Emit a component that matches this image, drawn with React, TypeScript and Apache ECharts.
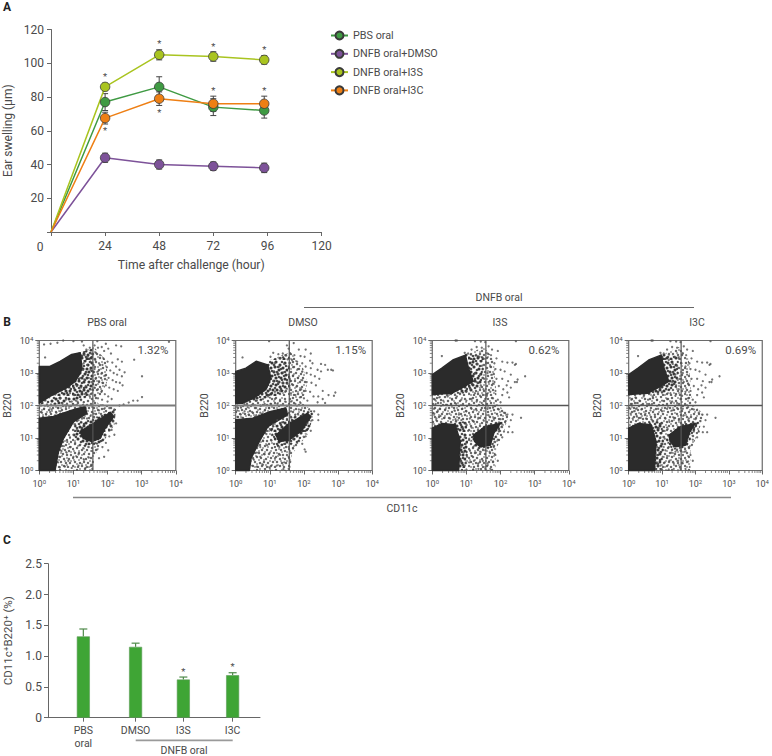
import React, { useEffect, useRef } from "react";
import * as echarts from "echarts";

const FONT = "Roboto";
const TEXT = "#4a4a4a";
const AXIS = "#666666";

// Panel A
const hours = [0, 24, 48, 72, 94.6];
const seriesNames = ["PBS oral", "DNFB oral+DMSO", "DNFB oral+I3S", "DNFB oral+I3C"];
const seriesColors = ["#3f9a43", "#7d5299", "#a9c420", "#ee7f14"];
const pbsValues = [0, 77, 86, 74, 72];
const dmsoValues = [0, 44, 40, 39, 38];
const i3sValues = [0, 86, 105, 104, 102];
const i3cValues = [0, 67.5, 79, 76, 76];
const pbsErr = [0, 5, 6, 5, 4.5];
const dmsoErr = [0, 2.7, 2.7, 2.5, 2.8];
const i3sErr = [0, 2.2, 3, 2.8, 2.5];
const i3cErr = [0, 3.5, 4, 4.5, 4.5];
const starsA = [
  [24, 92], [24, 60], [48, 111.5], [48, 71], [72, 110], [72, 84], [94.6, 108], [94.6, 84],
];

// Panel B: positions in decades (log10 of the channel)
const gate = [1.57, 2.0];
const bTitles = ["PBS oral", "DMSO", "I3S", "I3C"];
const bPercents = ["1.32%", "1.15%", "0.62%", "0.69%"];

const pbsDark = [
  [[0, 3.2], [0.31, 3.2], [0.61, 3.36], [0.95, 3.57], [1.2, 3.62], [1.25, 3.15], [1.2, 3.0], [1.05, 2.74], [0.8, 2.54], [0.31, 2.28], [0, 2.07]],
  [[0, 1.61], [0.41, 1.66], [1.0, 1.87], [1.34, 1.97], [1.39, 1.76], [1.0, 1.5], [0.71, 0.99], [0.56, 0.58], [0.46, 0], [0, 0]],
  [[1.2, 1.2], [1.59, 1.45], [2.08, 1.79], [2.18, 1.66], [1.93, 1.3], [1.78, 0.99], [1.54, 0.89], [1.29, 0.99]],
];
const pbsDense = [
  [[0, 2.05], [0.6, 2.4], [1.05, 3.6], [1.58, 3.75], [1.62, 2.55], [1.3, 2.2], [0.6, 2.05]],
  [[1.05, 1.45], [1.6, 1.6], [2.25, 1.9], [2.2, 1.4], [1.85, 0.85], [1.3, 0.75], [1.0, 1.0]],
];
const pbsMid = [[0, 2.07], [1.2, 3.62], [1.6, 3.8], [1.95, 3.4], [2.02, 2.8], [1.7, 2.08], [2.2, 1.95], [2.1, 1.6], [1.85, 0.9], [1.6, 0.4], [1.6, 0], [0.46, 0], [0, 1.61]];
const pbsDots = [
  [0.14, 3.88], [0.33, 3.9], [0.53, 3.93], [0.7, 4.0], [0.17, 3.48], [1.0, 3.98], [1.25, 3.97], [1.7, 3.98], [1.95, 3.9], [2.25, 3.85], [2.4, 3.82],
  [3.8, 3.96], [3.01, 2.9], [2.78, 3.41], [3.01, 2.26], [2.88, 2.15], [2.75, 2.15], [2.62, 2.09], [2.47, 2.03], [2.35, 2.0],
  [1.62, 3.85], [1.72, 3.78], [1.83, 3.8], [1.9, 3.68], [2.02, 3.75], [2.1, 3.6], [1.66, 3.62], [1.78, 3.55], [1.88, 3.45], [2.0, 3.35], [2.14, 3.32], [2.3, 3.42], [2.42, 3.35], [2.25, 3.2], [2.35, 3.1],
  [1.64, 3.4], [1.75, 3.3], [1.85, 3.25], [1.98, 3.18], [2.08, 3.08], [2.18, 3.0], [2.28, 2.95], [2.42, 2.9], [2.5, 3.02], [1.62, 3.12], [1.72, 3.05], [1.82, 2.98], [1.93, 2.92], [2.03, 2.85], [2.15, 2.78], [2.25, 2.72], [2.36, 2.7], [2.44, 2.62],
  [1.65, 2.82], [1.75, 2.75], [1.85, 2.7], [1.95, 2.62], [2.05, 2.55], [2.18, 2.5], [2.3, 2.45], [1.62, 2.55], [1.72, 2.5], [1.82, 2.42], [1.92, 2.35], [2.02, 2.28], [1.63, 2.3], [1.72, 2.22], [1.84, 2.18], [2.0, 2.12], [2.12, 2.2],
  [1.3, 3.85], [1.38, 3.72], [1.48, 3.78], [1.32, 3.55], [1.42, 3.5], [1.52, 3.6], [1.3, 3.3], [1.4, 3.25], [1.5, 3.35], [1.28, 3.1], [1.38, 3.02], [1.5, 3.1], [1.2, 2.85], [1.32, 2.8], [1.45, 2.85], [1.54, 2.72], [1.1, 2.6], [1.22, 2.55], [1.36, 2.6], [1.5, 2.5], [0.9, 2.38], [1.02, 2.32], [1.18, 2.3], [1.33, 2.35], [1.48, 2.28], [0.62, 2.22], [0.78, 2.18], [0.95, 2.12], [1.12, 2.12], [1.3, 2.1],
  [0.05, 2.0], [0.14, 1.9], [0.25, 1.98], [0.36, 1.88], [0.45, 2.02], [0.56, 1.92], [0.68, 2.05], [0.78, 1.96], [0.08, 1.78], [0.2, 1.72], [0.32, 1.8], [0.5, 1.78], [0.62, 1.82], [0.88, 1.98], [0.98, 2.05], [1.1, 2.02], [1.2, 1.98],
  [1.05, 1.42], [1.15, 1.55], [1.25, 1.62], [1.4, 1.6], [1.5, 1.68], [1.6, 1.75], [1.75, 1.85], [1.9, 1.9], [2.05, 1.92], [2.2, 1.88], [1.1, 1.25], [1.0, 1.1], [0.9, 1.02], [0.82, 0.88], [0.72, 0.75], [0.65, 0.6], [0.58, 0.42], [0.55, 0.25], [0.6, 0.1],
  [0.8, 0.55], [0.92, 0.72], [1.05, 0.85], [1.18, 0.78], [1.3, 0.68], [1.45, 0.72], [1.55, 0.6], [0.85, 0.3], [1.0, 0.42], [1.15, 0.5], [1.3, 0.35], [1.45, 0.4], [1.52, 0.18], [0.75, 0.12], [0.95, 0.08], [1.15, 0.15], [1.35, 0.08], [1.55, 0.05], [1.7, 0.65], [1.65, 0.85], [1.85, 0.72], [1.95, 0.85], [2.05, 1.05], [2.12, 1.25], [2.02, 0.62], [1.9, 0.42], [1.75, 0.38], [2.25, 1.45], [2.2, 1.1],
];

const dmsoDark = [
  [[0, 3.05], [0.3, 3.15], [0.6, 3.36], [0.94, 3.25], [1.03, 2.85], [0.89, 2.5], [0.55, 2.24], [0.2, 2.07], [0, 2.07]],
  [[0, 1.56], [0.5, 1.61], [1.0, 1.81], [1.47, 1.92], [1.52, 1.71], [0.94, 1.35], [0.69, 0.89], [0.45, 0.37], [0.4, 0], [0, 0]],
  [[1.18, 1.09], [1.57, 1.45], [2.1, 1.76], [2.2, 1.66], [1.91, 1.2], [1.57, 0.94], [1.28, 0.89]],
];
const dmsoDense = [
  [[0, 2.05], [0.7, 2.5], [1.0, 3.4], [1.55, 3.55], [1.62, 2.6], [1.2, 2.3], [0.5, 2.1]],
  [[1.0, 1.3], [1.55, 1.6], [2.25, 1.85], [2.2, 1.35], [1.8, 0.85], [1.2, 0.75]],
];
const dmsoMid = [[0, 2.07], [1.0, 3.4], [1.6, 3.65], [1.95, 3.25], [2.1, 2.7], [1.95, 2.08], [2.3, 1.8], [2.1, 1.1], [1.65, 0.5], [1.6, 0], [0.4, 0], [0, 1.56]];
const dmsoDots = [
  [0.2, 3.48], [0.98, 3.98], [1.5, 3.85], [1.55, 3.75], [1.7, 3.92], [1.85, 3.72], [2.05, 3.72], [2.2, 3.6], [1.38, 3.6], [1.25, 3.58], [1.1, 3.62], [1.02, 3.5], [1.3, 3.45], [1.45, 3.55], [1.6, 3.6],
  [1.72, 3.55], [1.9, 3.52], [2.02, 3.5], [2.18, 3.38], [2.25, 3.3], [2.5, 3.28], [2.62, 3.25], [2.8, 3.1], [2.7, 3.1], [2.85, 3.08], [2.5, 3.05], [2.4, 3.1], [2.2, 3.15], [2.05, 3.2], [1.95, 3.3], [1.8, 3.35], [1.65, 3.4], [1.52, 3.42],
  [1.15, 3.3], [1.28, 3.2], [1.42, 3.28], [1.55, 3.2], [1.68, 3.18], [1.82, 3.12], [1.95, 3.05], [2.08, 3.0], [2.2, 2.95], [2.32, 2.9], [2.45, 2.82], [1.12, 3.05], [1.25, 2.98], [1.4, 3.02], [1.55, 2.95], [1.68, 2.92], [1.82, 2.85], [1.95, 2.78], [2.08, 2.72], [2.22, 2.7], [2.35, 2.62],
  [1.1, 2.75], [1.25, 2.72], [1.38, 2.7], [1.52, 2.68], [1.65, 2.65], [1.78, 2.58], [1.92, 2.5], [2.05, 2.45], [2.18, 2.42], [1.0, 2.48], [1.15, 2.42], [1.3, 2.45], [1.45, 2.42], [1.62, 2.38], [1.75, 2.32], [1.88, 2.25], [2.0, 2.22], [2.1, 2.15],
  [2.55, 2.45], [2.72, 2.32], [2.88, 2.3], [2.92, 2.4], [2.42, 2.28], [2.55, 2.2], [2.62, 2.08], [2.4, 2.1], [2.28, 2.28], [1.62, 2.12], [1.75, 2.05], [1.9, 2.08], [1.45, 2.12], [1.3, 2.18], [1.15, 2.2], [0.95, 2.28], [0.8, 2.2], [0.62, 2.15], [0.85, 2.05], [1.02, 2.05], [1.22, 2.05],
  [0.05, 2.0], [0.15, 1.95], [0.25, 2.05], [0.35, 1.95], [0.48, 2.02], [0.6, 1.92], [0.72, 2.0], [0.05, 1.85], [0.15, 1.72], [0.26, 1.82], [0.38, 1.72], [0.48, 1.8], [0.6, 1.7], [0.72, 1.78], [0.05, 1.65], [0.2, 1.62], [0.85, 1.85], [0.98, 1.92],
  [1.0, 1.28], [1.1, 1.42], [1.22, 1.55], [1.35, 1.48], [1.5, 1.55], [1.62, 1.65], [1.62, 1.82], [1.75, 1.72], [1.85, 1.88], [2.0, 1.82], [2.15, 1.88], [2.3, 1.82], [2.42, 1.72], [2.42, 1.55], [2.25, 1.55], [2.1, 1.45], [2.2, 1.22], [2.05, 1.05], [0.9, 1.12], [0.8, 0.92], [0.72, 0.72], [0.62, 0.55], [0.52, 0.35], [0.48, 0.15],
  [0.92, 0.78], [1.05, 0.92], [1.15, 0.72], [1.28, 0.72], [1.42, 0.82], [1.55, 0.72], [0.72, 0.42], [0.85, 0.5], [1.0, 0.55], [1.15, 0.38], [1.3, 0.48], [1.42, 0.25], [1.55, 0.42], [0.62, 0.12], [0.8, 0.18], [1.0, 0.08], [1.2, 0.15], [1.4, 0.05], [1.55, 0.05], [1.68, 0.98], [1.8, 0.85], [1.95, 0.82], [2.02, 0.65], [2.05, 0.58], [1.68, 0.68],
];

const lowDark = [
  [[0, 2.95], [0.28, 3.15], [0.62, 3.41], [0.97, 3.55], [1.06, 3.15], [1.2, 2.74], [0.87, 2.54], [0.58, 2.38], [0.19, 2.35], [0, 2.33]],
  [[0, 1.3], [0.29, 1.45], [0.67, 1.41], [0.82, 0.89], [0.77, 0], [0, 0]],
  [[1.21, 1.09], [1.55, 1.35], [1.99, 1.45], [1.8, 1.14], [1.7, 0.78], [1.4, 0.73], [1.24, 0.89]],
];
const lowDense = [
  [[0.5, 2.35], [0.97, 3.6], [1.5, 3.5], [1.45, 2.6], [1.1, 2.4]],
  [[1.1, 1.0], [1.6, 1.45], [2.1, 1.5], [1.85, 1.0], [1.75, 0.7], [1.3, 0.65]],
  [[0.6, 1.5], [1.0, 1.5], [1.05, 0.8], [0.95, 0], [0.7, 0]],
];
const lowMid = [[0, 2.33], [0.97, 3.55], [1.5, 3.8], [1.8, 3.45], [1.85, 2.7], [1.9, 2.05], [2.25, 1.75], [2.1, 1.2], [1.85, 0.6], [1.85, 0], [0.77, 0], [0, 1.3]];
const lowDots = [
  [0.68, 4.0], [0.72, 4.0], [1.25, 3.98], [1.42, 3.97], [2.45, 3.98], [1.55, 3.95], [1.65, 3.82], [1.75, 3.72], [1.45, 3.78], [1.3, 3.8], [1.15, 3.72], [0.28, 3.52], [0.95, 3.62], [1.05, 3.6],
  [1.62, 3.6], [1.72, 3.55], [1.92, 3.68], [1.88, 3.45], [1.82, 3.3], [2.05, 3.35], [2.2, 3.32], [2.35, 3.32], [2.42, 3.25], [2.45, 3.28], [1.38, 3.5], [1.5, 3.45], [1.2, 3.4], [1.32, 3.28], [1.45, 3.22], [1.58, 3.3], [1.7, 3.2], [1.85, 3.12],
  [2.0, 3.1], [2.12, 3.05], [2.3, 2.95], [2.72, 2.9], [2.5, 2.8], [2.42, 2.72], [2.48, 2.72], [2.22, 2.75], [2.18, 2.62], [2.3, 2.55], [2.05, 2.82], [1.62, 3.0], [1.75, 2.95], [1.88, 2.82], [1.65, 2.72], [1.78, 2.68], [1.95, 2.6], [2.08, 2.5], [2.2, 2.4], [2.25, 2.25], [2.05, 2.32], [1.85, 2.45], [1.7, 2.42], [1.6, 2.3], [1.78, 2.22], [1.92, 2.18], [2.0, 2.1],
  [1.25, 3.0], [1.4, 2.95], [1.52, 2.82], [1.3, 2.72], [1.42, 2.62], [1.5, 2.5], [1.0, 2.42], [1.12, 2.5], [1.25, 2.38], [1.4, 2.3], [1.55, 2.2], [0.72, 2.28], [0.85, 2.18], [1.0, 2.15], [1.15, 2.2], [1.3, 2.12], [1.45, 2.08], [0.08, 2.18], [0.2, 2.25], [0.32, 2.15], [0.45, 2.28], [0.58, 2.18], [0.1, 2.05], [0.25, 2.08], [0.4, 2.02], [0.55, 2.05], [0.7, 2.05],
  [0.05, 1.9], [0.16, 1.82], [0.24, 1.68], [0.12, 1.6], [0.06, 1.75], [0.22, 1.9], [0.38, 1.88], [0.5, 1.75], [0.36, 1.62], [0.52, 1.6], [0.65, 1.85], [0.78, 1.72], [0.68, 1.58], [0.88, 1.9], [1.0, 1.82], [1.15, 1.9], [1.3, 1.85], [1.45, 1.92], [1.62, 1.9], [1.78, 1.95], [1.95, 1.88], [2.1, 1.78], [2.2, 1.72], [2.35, 1.72], [2.6, 1.62],
  [0.85, 1.55], [0.98, 1.45], [1.1, 1.6], [1.22, 1.5], [1.35, 1.62], [1.5, 1.55], [1.65, 1.7], [1.8, 1.6], [2.0, 1.58], [2.15, 1.52], [2.25, 1.35], [2.3, 1.55], [2.35, 1.18], [2.22, 1.18], [2.1, 1.2], [1.95, 1.2], [2.05, 1.02], [1.92, 0.95], [0.9, 1.3], [1.05, 1.22], [1.15, 1.32], [0.95, 1.02], [1.08, 0.98], [1.2, 0.72],
  [0.85, 0.72], [0.98, 0.82], [1.1, 0.62], [0.82, 0.48], [0.92, 0.55], [1.02, 0.42], [1.15, 0.45], [1.28, 0.55], [1.4, 0.58], [1.55, 0.62], [1.68, 0.58], [1.8, 0.72], [1.85, 0.48], [1.92, 0.3], [1.78, 0.28], [0.85, 0.25], [0.95, 0.15], [1.08, 0.25], [1.22, 0.3], [1.35, 0.22], [1.48, 0.3], [1.62, 0.22], [1.0, 0.03], [1.2, 0.03], [1.35, 0.05], [1.55, 0.05], [1.7, 0.05],
];

// Texture for the crowded, mottled part of a cloud (a 36 px tile of events)
const speckleTile = [
  [2, 3], [5, 2], [9, 4], [13, 1], [16, 5], [20, 3], [24, 2], [28, 5], [33, 3], [1, 8], [6, 7], [11, 9], [15, 9], [19, 8], [23, 7], [27, 10], [31, 8], [35, 10],
  [3, 12], [8, 13], [13, 14], [17, 12], [22, 12], [26, 14], [30, 13], [34, 15], [1, 17], [5, 16], [10, 18], [15, 18], [20, 16], [24, 18], [29, 18], [33, 19],
  [3, 21], [7, 21], [12, 22], [17, 22], [22, 21], [27, 22], [31, 23], [35, 23], [1, 26], [5, 25], [9, 26], [14, 27], [19, 26], [24, 25], [28, 27], [33, 27],
  [3, 30], [8, 31], [12, 30], [16, 31], [21, 30], [25, 30], [30, 31], [34, 31], [1, 34], [6, 35], [10, 34], [15, 35], [19, 34], [23, 35], [28, 34], [32, 35],
];
const speckleExtra = [
  [4, 5], [8, 1], [12, 6], [18, 2], [22, 5], [26, 7], [30, 2], [34, 6], [3, 9], [9, 10], [14, 12], [20, 11], [25, 12], [29, 9], [33, 12],
  [6, 14], [11, 16], [16, 15], [23, 15], [27, 17], [32, 16], [2, 19], [7, 19], [13, 20], [19, 19], [25, 21], [30, 20], [35, 20],
  [4, 24], [10, 23], [16, 25], [21, 24], [26, 24], [31, 26], [2, 28], [7, 28], [12, 28], [18, 29], [23, 28], [29, 29], [35, 29],
  [5, 32], [10, 32], [14, 33], [20, 33], [26, 33], [31, 33], [3, 35], [17, 35],
];

const minorDigits = [2, 3, 4, 5, 6, 7, 8, 9];
const decades = [0, 1, 2, 3];

// Panel C
const cLabels = ["PBS\noral", "DMSO", "I3S", "I3C"];
const cPositions = [1, 2.05, 3.01, 4];
const cValues = [1.32, 1.15, 0.62, 0.69];
const cErr = [0.12, 0.06, 0.04, 0.04];
const cStars = [[3.01, 0.75], [4, 0.83]];

function makeSpeckle(r1: number, r2: number, a1: number, a2: number) {
  const c = document.createElement("canvas");
  c.width = 36;
  c.height = 36;
  const g = c.getContext("2d")!;
  g.fillStyle = `rgba(50,50,50,${a1})`;
  speckleTile.forEach(([x, y]) => {
    g.beginPath();
    g.arc(x, y, r1, 0, Math.PI * 2);
    g.fill();
  });
  g.fillStyle = `rgba(55,55,55,${a2})`;
  speckleExtra.forEach(([x, y]) => {
    g.beginPath();
    g.arc(x, y, r2, 0, Math.PI * 2);
    g.fill();
  });
  return c;
}

function buildOption() {
  const grids: any[] = [];
  const xAxes: any[] = [];
  const yAxes: any[] = [];
  const series: any[] = [];
  const speckle = makeSpeckle(1.25, 1.0, 0.72, 0.55);
  const speckleDense = makeSpeckle(1.55, 1.35, 0.88, 0.8);

  // ---------- Panel A ----------
  grids.push({ left: 51, top: 29.5, width: 270.5, height: 202.5 });
  xAxes.push({
    type: "value", gridIndex: 0, min: 0, max: 120, interval: 24,
    name: "Time after challenge (hour)", nameLocation: "middle", nameGap: 27,
    nameTextStyle: { fontFamily: FONT, fontSize: 12.2, color: TEXT, padding: [0, 0, 0, 10] },
    axisLine: { lineStyle: { color: AXIS } }, axisTick: { length: 4, lineStyle: { color: AXIS } },
    splitLine: { show: false },
    axisLabel: { fontFamily: FONT, fontSize: 12, color: TEXT, margin: 8, formatter: (v: number) => (v === 0 ? "" : String(v)) },
  });
  yAxes.push({
    type: "value", gridIndex: 0, min: 0, max: 120, interval: 20,
    name: "Ear swelling (µm)", nameLocation: "middle", nameGap: 37, nameRotate: 90,
    nameTextStyle: { fontFamily: FONT, fontSize: 12, color: TEXT },
    axisLine: { show: true, lineStyle: { color: AXIS } }, axisTick: { length: 4, lineStyle: { color: AXIS } },
    splitLine: { show: false },
    axisLabel: { fontFamily: FONT, fontSize: 12, color: TEXT, margin: 7, formatter: (v: number) => (v === 0 ? "" : String(v)) },
  });

  const aValues = [pbsValues, dmsoValues, i3sValues, i3cValues];
  const aErrs = [pbsErr, dmsoErr, i3sErr, i3cErr];
  aValues.forEach((vals, k) => {
    series.push({
      type: "custom", xAxisIndex: 0, yAxisIndex: 0, z: 2, clip: false, silent: true,
      data: vals.map((v, i) => [hours[i], v, aErrs[k][i]]).slice(1),
      renderItem: (_: any, api: any) => {
        const x = api.value(0), y = api.value(1), e = api.value(2);
        const hi = api.coord([x, y + e]), lo = api.coord([x, y - e]);
        const style = { stroke: "#444444", lineWidth: 1, fill: "none" };
        return {
          type: "group",
          children: [
            { type: "line", shape: { x1: hi[0], y1: hi[1], x2: lo[0], y2: lo[1] }, style },
            { type: "line", shape: { x1: hi[0] - 3, y1: hi[1], x2: hi[0] + 3, y2: hi[1] }, style },
            { type: "line", shape: { x1: lo[0] - 3, y1: lo[1], x2: lo[0] + 3, y2: lo[1] }, style },
          ],
        };
      },
    });
  });
  aValues.forEach((vals, k) => {
    series.push({
      type: "line", name: seriesNames[k], xAxisIndex: 0, yAxisIndex: 0, z: 3,
      symbol: "circle", symbolSize: 9.5,
      lineStyle: { color: seriesColors[k], width: 1.5 },
      itemStyle: { color: seriesColors[k], borderColor: "#3a3a3a", borderWidth: 0.8 },
      data: vals.map((v, i) => (i === 0 ? { value: [hours[i], v], symbol: "none" } : [hours[i], v])),
    });
  });
  const starRender = (_: any, api: any) => {
    const p = api.coord([api.value(0), api.value(1)]);
    return {
      type: "text", x: p[0], y: p[1],
      style: { text: "*", fontFamily: FONT, fontSize: 9.5, fill: TEXT, textAlign: "center", textVerticalAlign: "middle" },
    };
  };
  series.push({ type: "custom", xAxisIndex: 0, yAxisIndex: 0, z: 4, silent: true, clip: false, data: starsA, renderItem: starRender });

  // ---------- Panel B ----------
  const bLefts = [39.3, 235.7, 432.3, 628.7];
  const bDark = [pbsDark, dmsoDark, lowDark, lowDark];
  const bDense = [pbsDense, dmsoDense, lowDense, lowDense];
  const bMid = [pbsMid, dmsoMid, lowMid, lowMid];
  const bDots = [pbsDots, dmsoDots, lowDots, lowDots];
  const toVal = (p: number[]) => [Math.pow(10, p[0]), Math.pow(10, p[1])];
  const logLabel = (v: number) => "{b|10}{s|" + Math.round(Math.log10(v)) + "}";
  bLefts.forEach((left, k) => {
    const gi = k + 1;
    grids.push({ left, top: 340.5, width: 136.5, height: 130, show: true, borderColor: "#6b6b6b", borderWidth: 1.2, backgroundColor: "transparent" });
    const rich = {
      b: { fontFamily: FONT, fontSize: 9, color: TEXT },
      s: { fontFamily: FONT, fontSize: 6, color: TEXT, verticalAlign: "top", padding: [0, 0, 4, 0] },
    };
    xAxes.push({
      type: "log", gridIndex: gi, min: 1, max: 10000, logBase: 10,
      axisLine: { show: false }, splitLine: { show: false },
      axisTick: { length: 4, lineStyle: { color: AXIS } },
      axisLabel: { margin: 8, formatter: logLabel, rich, hideOverlap: false, showMinLabel: true, showMaxLabel: true },
    });
    yAxes.push({
      type: "log", gridIndex: gi, min: 1, max: 10000, logBase: 10,
      name: "B220", nameLocation: "middle", nameGap: 26, nameRotate: 90,
      nameTextStyle: { fontFamily: FONT, fontSize: 10.5, color: TEXT },
      axisLine: { show: false }, splitLine: { show: false },
      axisTick: { length: 4, lineStyle: { color: AXIS } },
      axisLabel: { margin: 6, formatter: logLabel, rich, showMinLabel: true, showMaxLabel: true },
    });
    series.push({
      type: "custom", xAxisIndex: gi, yAxisIndex: gi, z: 1, silent: true, data: [[1, 1]],
      renderItem: (_: any, api: any) => ({
        type: "polygon",
        shape: { points: bMid[k].map((p) => api.coord(toVal(p))) },
        style: { fill: { image: speckle, repeat: "repeat", imageWidth: 36, imageHeight: 36 }, stroke: "none" },
      }),
    });
    series.push({
      type: "custom", xAxisIndex: gi, yAxisIndex: gi, z: 1, silent: true, data: bDense[k].map((_, i) => [i + 1, 1]),
      renderItem: (params: any, api: any) => ({
        type: "polygon",
        shape: { points: bDense[k][params.dataIndex].map((p: number[]) => api.coord(toVal(p))) },
        style: { fill: { image: speckleDense, repeat: "repeat", imageWidth: 36, imageHeight: 36 }, stroke: "none" },
      }),
    });
    series.push({
      type: "custom", xAxisIndex: gi, yAxisIndex: gi, z: 2, silent: true, data: bDark[k].map((_, i) => [i + 1, 1]),
      renderItem: (params: any, api: any) => ({
        type: "polygon",
        shape: { points: bDark[k][params.dataIndex].map((p: number[]) => api.coord(toVal(p))) },
        style: { fill: "#2b2b2b", stroke: "#2b2b2b", lineWidth: 1.5, lineJoin: "round" },
      }),
    });
    series.push({
      type: "scatter", xAxisIndex: gi, yAxisIndex: gi, z: 3, silent: true, symbol: "circle", symbolSize: 2.3,
      itemStyle: { color: "#505050", opacity: 0.8 },
      data: bDots[k].map(toVal),
    });
    // minor log ticks
    series.push({
      type: "custom", xAxisIndex: gi, yAxisIndex: gi, z: 1, silent: true, clip: false,
      data: decades.flatMap((d) => minorDigits.map((m) => [m * Math.pow(10, d), m * Math.pow(10, d)])),
      renderItem: (_: any, api: any) => {
        const px = api.coord([api.value(0), 1]);
        const py = api.coord([1, api.value(1)]);
        const style = { stroke: AXIS, lineWidth: 0.8, fill: "none" };
        return {
          type: "group",
          children: [
            { type: "line", shape: { x1: px[0], y1: px[1], x2: px[0], y2: px[1] + 2.5 }, style },
            { type: "line", shape: { x1: py[0], y1: py[1], x2: py[0] - 2.5, y2: py[1] }, style },
          ],
        };
      },
    });
    // quadrant gates
    series.push({
      type: "custom", xAxisIndex: gi, yAxisIndex: gi, z: 4, silent: true, data: [[1, 1]],
      renderItem: (_: any, api: any) => {
        const gx = Math.pow(10, gate[0]), gy = Math.pow(10, gate[1]);
        const v1 = api.coord([gx, 1]), v2 = api.coord([gx, 10000]);
        const h1 = api.coord([1, gy]), h2 = api.coord([10000, gy]);
        return {
          type: "group",
          children: [
            { type: "line", shape: { x1: v1[0], y1: v1[1], x2: v2[0], y2: v2[1] }, style: { stroke: "#555555", lineWidth: 1.2 } },
            { type: "line", shape: { x1: h1[0], y1: h1[1], x2: h2[0], y2: h2[1] }, style: { stroke: k < 2 ? "#7a7a7a" : "#555555", lineWidth: k < 2 ? 2 : 1.4 } },
          ],
        };
      },
    });
  });

  // ---------- Panel C ----------
  const cIdx = 5;
  grids.push({ left: 48, top: 563.7, width: 212, height: 154 });
  xAxes.push({
    type: "value", gridIndex: cIdx, min: 0.29, max: 4.55,
    splitLine: { show: false },
    axisLine: { lineStyle: { color: AXIS } },
    axisTick: { show: true, customValues: cPositions, length: 4, lineStyle: { color: AXIS } },
    axisLabel: {
      customValues: cPositions, margin: 7, fontFamily: FONT, fontSize: 10.5, color: TEXT, lineHeight: 12.5, verticalAlign: "top",
      formatter: (v: number) => cLabels[cPositions.indexOf(v)] ?? "",
    },
  });
  yAxes.push({
    type: "value", gridIndex: cIdx, min: 0, max: 2.5, interval: 0.5,
    name: "CD11c⁺B220⁺ (%)", nameLocation: "middle", nameGap: 34, nameRotate: 90,
    nameTextStyle: { fontFamily: FONT, fontSize: 11.5, color: TEXT },
    axisLine: { show: true, lineStyle: { color: AXIS } },
    axisTick: { length: 4, lineStyle: { color: AXIS } },
    splitLine: { show: false },
    axisLabel: { fontFamily: FONT, fontSize: 12, color: TEXT, margin: 6, formatter: (v: number) => (v === 0 ? "0" : v.toFixed(1)) },
  });
  series.push({
    type: "custom", xAxisIndex: cIdx, yAxisIndex: cIdx, z: 1, silent: true,
    data: cPositions.map((x, i) => [x, cValues[i], cErr[i]]),
    renderItem: (_: any, api: any) => {
      const x = api.value(0), y = api.value(1), e = api.value(2);
      const a = api.coord([x, y]), b = api.coord([x, y + e]);
      const style = { stroke: "#4f8a4a", lineWidth: 1.2, fill: "none" };
      return {
        type: "group",
        children: [
          { type: "line", shape: { x1: a[0], y1: a[1], x2: b[0], y2: b[1] }, style },
          { type: "line", shape: { x1: b[0] - 4, y1: b[1], x2: b[0] + 4, y2: b[1] }, style },
        ],
      };
    },
  });
  series.push({
    type: "bar", xAxisIndex: cIdx, yAxisIndex: cIdx, barWidth: 13, z: 2,
    itemStyle: { color: "#3fa535", borderColor: "#5b9a55", borderWidth: 0.6 },
    data: cPositions.map((x, i) => [x, cValues[i]]),
  });
  series.push({ type: "custom", xAxisIndex: cIdx, yAxisIndex: cIdx, z: 4, silent: true, clip: false, data: cStars, renderItem: starRender });

  // ---------- Free texts ----------
  const txt = (x: number, y: number, text: string, extra: any = {}) => ({
    type: "text", x, y, silent: true,
    style: { text, fontFamily: FONT, fontSize: 10.5, fill: TEXT, textAlign: "center", textVerticalAlign: "middle", ...extra },
  });
  const line = (x1: number, y1: number, x2: number, y2: number, stroke = "#666666", lineWidth = 1) => ({
    type: "line", silent: true, shape: { x1, y1, x2, y2 }, style: { stroke, lineWidth },
  });
  const graphics: any[] = [
    txt(7, 7, "A", { fontWeight: "bold", fontSize: 12, fill: "#222222" }),
    txt(7, 322, "B", { fontWeight: "bold", fontSize: 12, fill: "#222222" }),
    txt(7, 540, "C", { fontWeight: "bold", fontSize: 12, fill: "#222222" }),
    txt(40, 247, "0", { fontSize: 12 }),
    txt(107, 322, bTitles[0]),
    txt(303, 322, bTitles[1]),
    txt(500, 322, bTitles[2]),
    txt(697, 322, bTitles[3]),
    txt(499, 297, "DNFB oral"),
    line(304, 307.5, 694, 307.5),
    line(73, 497.5, 731, 497.5, "#888888", 1.3),
    txt(402, 508, "CD11c"),
    txt(153, 350, bPercents[0], { fontSize: 11.5 }),
    txt(350.7, 350, bPercents[1], { fontSize: 11.5 }),
    txt(544, 350, bPercents[2], { fontSize: 11.5 }),
    txt(740.7, 350, bPercents[3], { fontSize: 11.5 }),
    line(135.7, 740.3, 232.7, 740.3, "#9a9a9a", 1.7),
    txt(184, 750, "DNFB oral"),
  ];

  return {
    animation: false,
    backgroundColor: "#ffffff",
    textStyle: { fontFamily: FONT },
    legend: {
      data: seriesNames, orient: "vertical", left: 330, top: 30, itemWidth: 17, itemHeight: 10, itemGap: 7.3, padding: 0,
      selectedMode: false,
      textStyle: { fontFamily: FONT, fontSize: 10.8, color: TEXT, padding: [0, 0, 0, 0] },
    },
    grid: grids, xAxis: xAxes, yAxis: yAxes, series, graphic: graphics,
  };
}

export default function App() {
  const ref = useRef<HTMLDivElement>(null);
  useEffect(() => {
    document.body.style.margin = "0";
    const chart = echarts.init(ref.current!, undefined, { renderer: "svg" });
    chart.setOption(buildOption() as any);
    return () => chart.dispose();
  }, []);
  return <div ref={ref} style={{ width: 772, height: 756 }} />;
}
